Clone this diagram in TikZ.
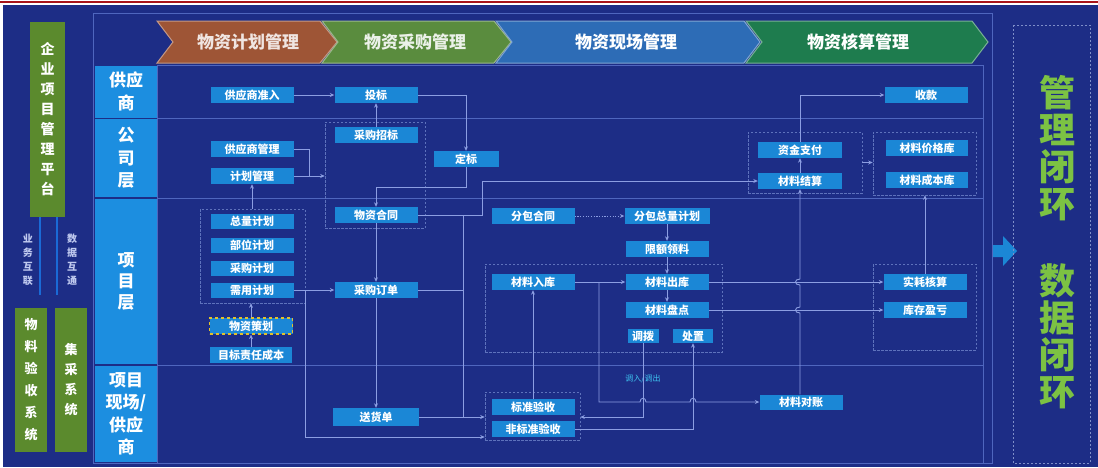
\documentclass[tikz,border=0pt]{standalone}
\usepackage{fontspec}
\setmainfont{Noto Sans CJK SC}
\usetikzlibrary{arrows.meta,fit}
\definecolor{bgC}{HTML}{1D2D86}
\definecolor{frameC}{HTML}{4F66BE}
\definecolor{lineC}{HTML}{8C9EE2}
\definecolor{nodeC}{HTML}{1B87D6}
\definecolor{labC}{HTML}{1C8EE0}
\definecolor{dashC}{HTML}{5E72BC}
\definecolor{gC}{HTML}{5B8A2D}
\definecolor{chA}{HTML}{9E5536}
\definecolor{chB}{HTML}{5A8C3E}
\definecolor{chC}{HTML}{2D6CB6}
\definecolor{chD}{HTML}{1E7C4E}
\definecolor{bigG}{HTML}{7CC243}
\definecolor{redC}{HTML}{A8141A}
\definecolor{yC}{HTML}{E2C12A}
\definecolor{cyanC}{HTML}{3EC3F0}
\definecolor{vlC}{HTML}{1A6AD6}
\definecolor{softT}{HTML}{C0CAF0}
\begin{document}
\begin{tikzpicture}[x=1pt,y=-1pt,
  box/.style={fill=nodeC,text=white,inner sep=0pt,minimum width=83pt,minimum height=16pt,font=\bfseries\fontsize{11}{12}\selectfont},
  conn/.style={draw=lineC,line width=0.9pt,-{Stealth[length=4.5pt,width=4pt]}},
  plain/.style={draw=lineC,line width=0.9pt},
  dbox/.style={draw=dashC,line width=0.6pt,dash pattern=on 2.5pt off 1.5pt,inner sep=0pt},
  lab/.style={fill=labC,text=white,inner sep=0pt,minimum width=62pt,align=center},
  hdr/.style={font=\bfseries\fontsize{17}{20}\selectfont},
  gbox/.style={fill=gC,text=white,inner sep=0pt,align=center},
  vtext/.style={align=center,text=softT,font=\bfseries\fontsize{10}{14}\selectfont},
  big/.style={align=center,text=bigG,font=\bfseries\fontsize{36}{37}\selectfont},
  chev/.style={line width=1pt}
]
\useasboundingbox (0,0) rectangle (1098,467);
% background
\fill[white] (0,0) rectangle (1098,467);
\fill[redC] (0,1) rectangle (1098,2.6);
\fill[bgC] (3,5) rectangle (1098,467);

% frames
\draw[frameC,line width=0.8pt] (93,13) rectangle (992,463);
\draw[frameC,line width=0.8pt] (157,65) rectangle (983,463);
\foreach \yy in {118,198,365} \draw[frameC,line width=0.7pt] (157,\yy) -- (983,\yy);

% row labels
\node[lab,minimum height=52pt,font=\bfseries\fontsize{17}{23}\selectfont] (r1) at (126,91.5) {供应\\商};
\node[lab,minimum height=78pt,font=\bfseries\fontsize{17}{22.5}\selectfont] (r2) at (126,158) {公\\司\\层};
\node[lab,minimum height=165pt,font=\bfseries\fontsize{17}{21}\selectfont] (r3) at (126,281.5) {项\\目\\层};
\node[lab,minimum height=96pt,font=\bfseries\fontsize{17}{22.5}\selectfont] (r4) at (126,414) {项目\\现场/\\供应\\商};

% header chevrons
\filldraw[chev,fill=chA,draw=chA!60!white] (157,21) -- (320,21) -- (337,42) -- (320,63) -- (157,63) -- (173,42) -- cycle;
\filldraw[chev,fill=chB,draw=chB!60!white] (322,21) -- (494,21) -- (511,42) -- (494,63) -- (322,63) -- (338,42) -- cycle;
\filldraw[chev,fill=chC,draw=chC!60!white] (496,21) -- (744,21) -- (760,42) -- (744,63) -- (496,63) -- (512,42) -- cycle;
\filldraw[chev,fill=chD,draw=chD!60!white] (746,21) -- (972,21) -- (988,42) -- (972,63) -- (746,63) -- (762,42) -- cycle;
\node[hdr,text=white!85!chA] (h1) at (248,42) {物资计划管理};
\node[hdr,text=white!88!chB] (h2) at (415,42) {物资采购管理};
\node[hdr,text=white] (h3) at (626,42) {物资现场管理};
\node[hdr,text=white] (h4) at (858,42) {物资核算管理};

% right side
\fill[nodeC] (993,245) -- (1003,245) -- (1003,236) -- (1017,251) -- (1003,266) -- (1003,257) -- (993,257) -- cycle;
\draw[dashC!80!white,line width=0.8pt,dash pattern=on 2pt off 2pt] (1013,25) rectangle (1090,463);
\node[big] (bigA) at (1057,148) {管\\理\\闭\\环};
\node[big] (bigB) at (1057,336) {数\\据\\闭\\环};

% left panel
\node[gbox,minimum width=35pt,minimum height=195pt,font=\bfseries\fontsize{14}{20}\selectfont] (plat) at (47.5,119.5) {企\\业\\项\\目\\管\\理\\平\\台};
\draw[vlC,line width=2.2pt] (40,217) -- (40,295);
\draw[vlC,line width=2.2pt] (57,217) -- (57,295);
\node[vtext] (t1) at (28,260) {业\\务\\互\\联};
\node[vtext] (t2) at (72,260) {数\\据\\互\\通};
\node[gbox,minimum width=32pt,minimum height=144pt,font=\bfseries\fontsize{13}{22}\selectfont] (sys1) at (31,380) {物\\料\\验\\收\\系\\统};
\node[gbox,minimum width=32pt,minimum height=144pt,font=\bfseries\fontsize{13}{20}\selectfont] (sys2) at (71,380) {集\\采\\系\\统};

% dashed groups
\node[dbox,fit={(325,122)(425,228)}] (bA) {};
\node[dbox,fit={(200,209)(305,303)}] (bB) {};
\node[dbox,fit={(748,132)(862,193)}] (bC) {};
\node[dbox,fit={(873,132)(976,195)}] (bD) {};
\node[dbox,fit={(485,264)(722,352)}] (bE) {};
\node[dbox,fit={(873,264)(976,350)}] (bF) {};
\node[dbox,fit={(485,392)(580,440)}] (bG) {};

% nodes
\node[box] (sup) at (252,95) {供应商准入};
\node[box] (bid) at (376,95) {投标};
\node[box] (shou) at (926,95) {收款};
\node[box] (zb) at (376,135) {采购招标};
\node[box] (gys) at (252,149) {供应商管理};
\node[box] (jh) at (252,176) {计划管理};
\node[box,minimum width=65pt] (dingb) at (466,159) {定标};
\node[box,minimum width=84pt] (zj) at (800,150) {资金支付};
\node[box,minimum width=84pt] (js) at (800,181) {材料结算};
\node[box,minimum width=82pt] (jg) at (927,148) {材料价格库};
\node[box,minimum width=82pt] (cb) at (927,180) {材料成本库};
\node[box,minimum height=15pt] (zl) at (252,221) {总量计划};
\node[box,minimum height=15pt] (bw) at (252,245) {部位计划};
\node[box,minimum height=15pt] (cgj) at (252,268) {采购计划};
\node[box,minimum height=15pt] (xy) at (252,290) {需用计划};
\node[box,draw=yC,dashed,line width=1.2pt] (chh) at (251,326) {物资策划};
\node[box,minimum width=82pt] (mb) at (251,355) {目标责任成本};
\node[box] (ht) at (376,215) {物资合同};
\node[box] (dd) at (376,290) {采购订单};
\node[box] (fb) at (533,216) {分包合同};
\node[box,minimum width=85pt] (fbj) at (667,216) {分包总量计划};
\node[box] (xe) at (667,249) {限额领料};
\node[box] (rk) at (533,282) {材料入库};
\node[box] (ck) at (667,282) {材料出库};
\node[box] (pd) at (667,310) {材料盘点};
\node[box,minimum width=31pt,minimum height=14pt] (dbo) at (643,336) {调拨};
\node[box,minimum width=40pt,minimum height=14pt] (cz) at (693,336) {处置};
\node[box] (sh) at (925,282) {实耗核算};
\node[box] (yk) at (925,310) {库存盈亏};
\node[box,minimum width=86pt,minimum height=18pt] (shd) at (376,417) {送货单};
\node[box] (bz) at (533,407) {标准验收};
\node[box] (fbz) at (533,429) {非标准验收};
\node[box,minimum height=15pt] (dz) at (801,402) {材料对账};
\node[text=cyanC,font=\fontsize{8}{9}\selectfont] (lbl) at (643,379) {调入/调出};

% connectors
\draw[conn] (sup) -- (bid);
\draw[conn] (bid.east) -| (dingb.north);
\draw[conn] (zb) -- (bid);
\draw[plain] (gys.east) -- ++(16,0) -- ++(0,27);
\draw[conn] (jh.east) -- (jh.east -| bA.west);
\draw[conn] (jh |- bB.north) -- (jh.south);
\draw[conn] (dingb.south) -- ++(0,20) -| (ht.north);
\draw[conn] (ht.east) -- ++(65,0) |- (js.west);
\coordinate (j1) at (463,215);
\draw[plain] (j1) -- (j1 |- shd);
\draw[conn] (ht) -- (dd);
\draw[conn] (xy) -- (dd);
\draw[plain] (dd.east) -- (dd.east -| j1);
\draw[conn] (dd) -- (shd);
\draw[conn] (shd.east) -- (shd.east -| bG.west);
\coordinate (j2) at (305,290);
\coordinate (j3) at (305,437);
\draw[conn] (j2) -- (j3) -- (j3 -| bG.west);
\draw[conn] (mb) -- (chh);
\draw[conn] (chh.north) -- (chh.north |- bB.south);
\draw[conn,dash pattern=on 1.2pt off 1.5pt] (fb) -- (fbj);
\draw[conn] (fbj) -- (xe);
\draw[conn] (xe) -- (ck);
\draw[conn] (rk) -- (ck);
\draw[conn] (ck) -- (pd);
\draw[conn] (ck) -- (sh);
\draw[conn] (pd) -- (yk);
\draw[conn] (dz.north -| js) -- (800,313) .. controls (794,313) and (794,307) .. (800,307) -- (800,285) .. controls (794,285) and (794,279) .. (800,279) -- (js.south);
\draw[conn] (js) -- (zj);
\draw[conn] (zj.north) |- (shou.west);
\draw[conn] (bC.east) -- (bC.east -| bD.west);
\draw[conn] (sh.north) -- (sh.north |- bD.south);
\draw[conn] (bz.north) -- (rk.south);
\coordinate (j4) at (599,282);
\draw[conn] (j4) -- (599,402) -- (640,402) .. controls (640,397) and (646,397) .. (646,402) -- (690,402) .. controls (690,397) and (696,397) .. (696,402) -- (dz.west);
\draw[conn] (dbo.south) -- (dbo.south |- shd) -- (bG.east |- shd);
\draw[conn] (fbz.east) -| (cz.south);
\end{tikzpicture}
\end{document}
